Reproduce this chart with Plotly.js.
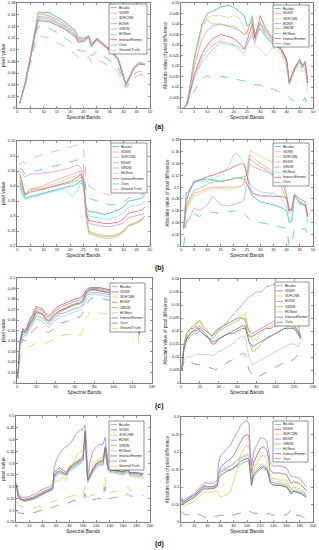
<!DOCTYPE html>
<html><head><meta charset="utf-8">
<script src="https://cdn.plot.ly/plotly-3.0.1.min.js"></script>
<style>html,body{margin:0;padding:0;background:#fff}#chart{width:319px;height:550px}</style>
</head><body><div id="chart"></div>
<script>
// ---------- DATA ----------
const seriesNames = ['Bicubic','VDSR','3DFCNN','EDSR','GRDN','HLNnet','InteractFormer','Ours','Ground Truth'];

// (a) left: pixel value
const aL_x = [1,3,5,7,8,10,12,15,18,20,22,23,25,27,28,30,32,35,38,40,41,42,44,46,48];
const aL_bicubic = [0.008,0.042,0.088,0.142,0.165,0.163,0.164,0.156,0.148,0.140,0.133,0.121,0.120,0.124,0.110,0.120,0.112,0.101,0.086,0.056,0.042,0.051,0.071,0.078,0.076];
const aL_vdsr = [0.008,0.041,0.087,0.140,0.161,0.160,0.158,0.151,0.144,0.137,0.130,0.119,0.118,0.123,0.108,0.119,0.111,0.100,0.085,0.055,0.041,0.050,0.070,0.077,0.075];
const aL_3dfcnn = [0.008,0.041,0.086,0.139,0.163,0.162,0.160,0.153,0.146,0.138,0.131,0.118,0.117,0.122,0.107,0.118,0.110,0.099,0.084,0.055,0.041,0.050,0.070,0.077,0.076];
const aL_edsr = [0.008,0.040,0.085,0.137,0.157,0.156,0.155,0.148,0.141,0.134,0.127,0.117,0.116,0.122,0.107,0.118,0.110,0.099,0.084,0.054,0.041,0.050,0.069,0.076,0.075];
const aL_grdn = [0.008,0.040,0.085,0.136,0.155,0.154,0.152,0.146,0.139,0.132,0.125,0.115,0.115,0.121,0.106,0.117,0.109,0.098,0.083,0.054,0.040,0.049,0.069,0.076,0.074];
const aL_hlnnet = [0.008,0.040,0.084,0.134,0.152,0.151,0.150,0.144,0.137,0.130,0.123,0.114,0.115,0.121,0.106,0.117,0.109,0.098,0.083,0.054,0.040,0.049,0.069,0.076,0.074];
const aL_interact = [0.008,0.040,0.084,0.133,0.150,0.149,0.148,0.142,0.135,0.128,0.122,0.113,0.114,0.122,0.105,0.118,0.109,0.098,0.083,0.053,0.040,0.049,0.068,0.075,0.074];
const aL_ours = [0.008,0.038,0.080,0.126,0.140,0.139,0.137,0.129,0.121,0.114,0.107,0.099,0.097,0.101,0.089,0.097,0.091,0.081,0.071,0.046,0.036,0.042,0.058,0.063,0.061];
const aL_gt = [0.008,0.036,0.075,0.113,0.124,0.122,0.120,0.112,0.105,0.098,0.092,0.086,0.084,0.088,0.078,0.084,0.079,0.071,0.063,0.041,0.034,0.038,0.051,0.057,0.057];

// (a) right: absolute difference
const aR_x = [1,2,3,5,8,10,12,15,18,20,22,24,25,27,28,30,32,35,38,40,41,43,45,46,47,48];
const aR_bicubic = [0,0.001,0.007,0.023,0.040,0.045,0.046,0.048,0.049,0.048,0.046,0.044,0.039,0.041,0.034,0.038,0.034,0.030,0.028,0.022,0.012,0.018,0.022,0.019,0.021,0.012];
const aR_vdsr = [0,0.001,0.005,0.015,0.024,0.027,0.030,0.032,0.031,0.030,0.028,0.026,0.030,0.036,0.032,0.040,0.035,0.031,0.027,0.022,0.012,0.019,0.022,0.019,0.021,0.011];
const aR_3dfcnn = [0,0.001,0.006,0.022,0.038,0.043,0.044,0.044,0.043,0.044,0.043,0.038,0.035,0.038,0.030,0.028,0.025,0.029,0.026,0.020,0.011,0.017,0.020,0.017,0.019,0.008];
const aR_edsr = [0,0.001,0.006,0.020,0.033,0.037,0.039,0.040,0.039,0.038,0.037,0.035,0.036,0.043,0.034,0.040,0.036,0.032,0.028,0.023,0.012,0.019,0.023,0.020,0.022,0.012];
const aR_grdn = [0,0.001,0.007,0.024,0.040,0.042,0.040,0.040,0.039,0.039,0.037,0.035,0.036,0.044,0.035,0.041,0.037,0.032,0.028,0.023,0.012,0.019,0.023,0.020,0.022,0.012];
const aR_hlnnet = [0,0.001,0.005,0.014,0.022,0.025,0.028,0.031,0.030,0.030,0.029,0.028,0.030,0.035,0.031,0.038,0.034,0.031,0.027,0.022,0.012,0.019,0.022,0.019,0.021,0.011];
const aR_interact = [0,0.001,0.005,0.016,0.026,0.030,0.033,0.035,0.034,0.033,0.031,0.028,0.032,0.040,0.033,0.044,0.038,0.033,0.028,0.023,0.012,0.019,0.023,0.020,0.022,0.012];
const aR_ours = [0,0.001,0.003,0.008,0.014,0.0155,0.014,0.015,0.0145,0.014,0.0135,0.013,0.0125,0.012,0.011,0.011,0.010,0.009,0.007,0.006,0.005,0.003,0.003,0.003,0.005,0.0];

// (b) left
const bL_x = [1,2,3,5,8,10,12,15,18,20,21,23,24,25,26,27,30,33,35,38,40,42,45,47,48];
const bL_bicubic = [0.41,0.38,0.36,0.365,0.37,0.375,0.38,0.39,0.395,0.40,0.40,0.41,0.42,0.40,0.33,0.315,0.312,0.305,0.31,0.32,0.33,0.35,0.355,0.36,0.37];
const bL_vdsr = [0.43,0.40,0.37,0.39,0.395,0.40,0.41,0.42,0.43,0.435,0.44,0.445,0.45,0.42,0.30,0.25,0.24,0.235,0.235,0.24,0.25,0.27,0.28,0.29,0.30];
const bL_3dfcnn = [0.42,0.39,0.37,0.385,0.39,0.395,0.40,0.41,0.42,0.43,0.43,0.435,0.44,0.41,0.29,0.24,0.23,0.225,0.225,0.232,0.245,0.265,0.275,0.285,0.30];
const bL_edsr = [0.45,0.44,0.43,0.44,0.44,0.445,0.445,0.45,0.455,0.46,0.465,0.47,0.46,0.44,0.32,0.275,0.27,0.265,0.265,0.27,0.275,0.295,0.30,0.305,0.31];
const bL_grdn = [0.42,0.39,0.37,0.39,0.39,0.39,0.395,0.40,0.405,0.41,0.415,0.42,0.43,0.41,0.30,0.245,0.235,0.23,0.23,0.236,0.248,0.268,0.278,0.288,0.30];
const bL_hlnnet = [0.40,0.37,0.355,0.36,0.37,0.375,0.38,0.385,0.39,0.375,0.365,0.39,0.41,0.40,0.32,0.30,0.295,0.29,0.29,0.30,0.31,0.33,0.335,0.34,0.35];
const bL_interact = [0.44,0.41,0.37,0.38,0.385,0.39,0.395,0.40,0.41,0.415,0.42,0.43,0.44,0.42,0.31,0.285,0.28,0.275,0.275,0.28,0.29,0.31,0.315,0.32,0.33];
const bL_ours = [0.46,0.455,0.44,0.445,0.45,0.455,0.46,0.47,0.475,0.48,0.482,0.488,0.492,0.47,0.38,0.36,0.35,0.34,0.337,0.34,0.345,0.36,0.365,0.37,0.375];
const bL_gt = [0.47,0.48,0.475,0.49,0.50,0.505,0.51,0.515,0.525,0.53,0.532,0.537,0.54,0.52,0.43,0.40,0.385,0.375,0.37,0.372,0.38,0.395,0.40,0.405,0.41];

// (b) right
const bR_x = [1,2,3,5,7,10,12,15,18,20,21,23,24,25,26,27,30,33,35,38,40,41,42,43,45,47,48];
const bR_bicubic = [0.03,0.09,0.092,0.108,0.112,0.114,0.112,0.11,0.112,0.115,0.116,0.115,0.113,0.105,0.095,0.085,0.075,0.072,0.07,0.065,0.06,0.04,0.042,0.088,0.072,0.07,0.05];
const bR_vdsr = [0.03,0.065,0.075,0.09,0.092,0.098,0.1,0.1,0.1,0.1,0.1,0.102,0.11,0.125,0.155,0.15,0.14,0.132,0.125,0.12,0.085,0.06,0.065,0.085,0.075,0.07,0.055];
const bR_3dfcnn = [0.03,0.06,0.07,0.085,0.088,0.095,0.097,0.098,0.096,0.098,0.1,0.103,0.105,0.13,0.162,0.16,0.152,0.146,0.143,0.14,0.09,0.062,0.065,0.085,0.075,0.07,0.055];
const bR_edsr = [0.03,0.04,0.045,0.065,0.06,0.07,0.085,0.07,0.068,0.07,0.072,0.075,0.08,0.11,0.14,0.135,0.13,0.125,0.12,0.1,0.078,0.055,0.06,0.085,0.072,0.068,0.052];
const bR_grdn = [0.03,0.065,0.078,0.095,0.098,0.105,0.108,0.11,0.112,0.115,0.115,0.116,0.118,0.12,0.148,0.145,0.135,0.128,0.12,0.115,0.085,0.06,0.064,0.086,0.074,0.07,0.054];
const bR_hlnnet = [0.03,0.09,0.095,0.11,0.11,0.11,0.112,0.12,0.135,0.155,0.158,0.148,0.14,0.12,0.105,0.1,0.092,0.09,0.09,0.082,0.065,0.04,0.045,0.088,0.07,0.07,0.04];
const bR_interact = [0.03,0.075,0.09,0.11,0.112,0.118,0.12,0.125,0.13,0.135,0.137,0.14,0.138,0.12,0.1,0.09,0.085,0.085,0.085,0.084,0.082,0.06,0.062,0.088,0.08,0.075,0.05];
const bR_ours = [0,0.04,0.05,0.055,0.05,0.058,0.057,0.055,0.058,0.06,0.06,0.06,0.055,0.05,0.045,0.043,0.04,0.037,0.035,0.032,0.03,0.0,0.005,0.03,0.028,0.03,0.02];

// (c) left
const cL_x = [1,3,6,8,10,13,16,20,23,26,30,33,36,40,45,50,55,60,65,68,72,76,80,85,90,95,100,105,110,115,120,124,127];
const cL_vdsr = [0.005,0.040,0.052,0.050,0.053,0.060,0.065,0.073,0.072,0.071,0.066,0.064,0.067,0.071,0.074,0.076,0.078,0.080,0.081,0.083,0.089,0.091,0.091,0.091,0.090,0.089,0.088,0.087,0.086,0.086,0.085,0.080,0.050];
const cL_edsr = [0.005,0.039,0.051,0.049,0.052,0.058,0.063,0.071,0.070,0.069,0.064,0.062,0.065,0.069,0.072,0.074,0.076,0.078,0.079,0.081,0.088,0.090,0.090,0.090,0.089,0.088,0.087,0.086,0.085,0.085,0.084,0.079,0.049];
const cL_3dfcnn = [0.005,0.039,0.050,0.048,0.050,0.056,0.061,0.069,0.068,0.067,0.062,0.060,0.063,0.067,0.070,0.072,0.074,0.076,0.077,0.079,0.086,0.089,0.089,0.089,0.088,0.087,0.086,0.085,0.084,0.084,0.083,0.078,0.048];
const cL_grdn = [0.005,0.038,0.049,0.047,0.049,0.055,0.059,0.067,0.066,0.065,0.060,0.058,0.061,0.065,0.068,0.070,0.072,0.074,0.075,0.077,0.085,0.088,0.088,0.088,0.087,0.086,0.085,0.084,0.083,0.083,0.082,0.077,0.047];
const cL_interact = [0.005,0.038,0.050,0.048,0.050,0.056,0.060,0.068,0.067,0.066,0.061,0.059,0.062,0.066,0.069,0.071,0.073,0.075,0.076,0.078,0.086,0.089,0.089,0.088,0.087,0.086,0.085,0.084,0.083,0.083,0.082,0.077,0.047];
const cL_bicubic = [0.005,0.037,0.047,0.045,0.047,0.053,0.057,0.064,0.063,0.062,0.058,0.056,0.059,0.063,0.066,0.067,0.069,0.071,0.072,0.075,0.083,0.086,0.086,0.086,0.085,0.084,0.083,0.082,0.081,0.081,0.080,0.075,0.046];
const cL_hlnnet = [0.005,0.036,0.045,0.043,0.045,0.051,0.055,0.061,0.060,0.059,0.055,0.053,0.056,0.060,0.063,0.064,0.066,0.068,0.069,0.072,0.080,0.084,0.084,0.084,0.083,0.082,0.081,0.080,0.079,0.079,0.078,0.073,0.045];
const cL_ours = [0.004,0.033,0.042,0.040,0.041,0.046,0.049,0.053,0.052,0.051,0.049,0.048,0.050,0.054,0.057,0.058,0.060,0.062,0.063,0.066,0.075,0.080,0.081,0.081,0.080,0.079,0.078,0.077,0.076,0.076,0.075,0.070,0.043];
const cL_gt = [0.003,0.022,0.031,0.032,0.033,0.035,0.036,0.038,0.038,0.038,0.038,0.039,0.041,0.043,0.045,0.046,0.046,0.046,0.045,0.050,0.062,0.068,0.068,0.067,0.066,0.066,0.065,0.065,0.064,0.064,0.063,0.058,0.035];

// (c) right
const cR_x = [1,3,6,8,10,13,16,20,23,26,30,33,36,40,45,50,55,60,65,68,72,76,80,85,90,95,100,105,110,115,120,124,127];
const cR_bicubic = [0.005,0.013,0.018,0.017,0.018,0.019,0.019,0.020,0.019,0.018,0.017,0.017,0.018,0.020,0.022,0.024,0.026,0.028,0.030,0.031,0.033,0.034,0.035,0.035,0.037,0.0375,0.038,0.037,0.036,0.034,0.030,0.024,0.017];
const cR_vdsr = [0.005,0.015,0.019,0.020,0.021,0.021,0.022,0.020,0.019,0.018,0.017,0.015,0.015,0.017,0.018,0.019,0.019,0.020,0.021,0.021,0.018,0.018,0.019,0.020,0.021,0.021,0.022,0.022,0.023,0.023,0.022,0.020,0.018];
const cR_3dfcnn = [0.005,0.014,0.018,0.019,0.020,0.021,0.022,0.024,0.022,0.021,0.019,0.018,0.019,0.021,0.022,0.023,0.024,0.025,0.026,0.027,0.020,0.016,0.017,0.019,0.021,0.022,0.023,0.024,0.025,0.025,0.024,0.021,0.018];
const cR_edsr = [0.005,0.013,0.017,0.018,0.019,0.020,0.021,0.022,0.021,0.020,0.019,0.018,0.020,0.021,0.022,0.023,0.024,0.025,0.025,0.024,0.020,0.019,0.020,0.021,0.022,0.023,0.024,0.024,0.024,0.023,0.022,0.020,0.017];
const cR_grdn = [0.005,0.014,0.019,0.020,0.021,0.022,0.023,0.024,0.022,0.021,0.019,0.018,0.019,0.020,0.021,0.022,0.023,0.024,0.025,0.025,0.016,0.012,0.013,0.015,0.017,0.018,0.019,0.020,0.021,0.022,0.021,0.019,0.017];
const cR_hlnnet = [0.005,0.009,0.010,0.010,0.010,0.0105,0.011,0.011,0.011,0.011,0.011,0.0105,0.011,0.012,0.013,0.014,0.015,0.017,0.018,0.018,0.010,0.007,0.008,0.009,0.010,0.011,0.012,0.013,0.014,0.015,0.015,0.014,0.016];
const cR_interact = [0.005,0.013,0.017,0.018,0.019,0.020,0.020,0.021,0.020,0.019,0.017,0.016,0.016,0.017,0.018,0.019,0.020,0.021,0.022,0.022,0.016,0.014,0.015,0.016,0.017,0.018,0.019,0.020,0.021,0.021,0.021,0.019,0.017];
const cR_ours = [0.005,0.008,0.009,0.008,0.008,0.0075,0.0072,0.007,0.0068,0.0065,0.006,0.0055,0.0052,0.0055,0.007,0.008,0.009,0.010,0.0115,0.011,0.005,0.003,0.002,0.003,0.004,0.005,0.0062,0.007,0.008,0.0085,0.009,0.011,0.012];

// (d) left
const dL_x = [1,3,6,10,15,20,25,30,35,40,45,50,55,57,60,65,70,75,80,85,90,95,100,103,105,107,110,115,120,125,130,133,135,137,140,150,160,167,170,180,190];
const dL_bicubic = [0.2,0.16,0.145,0.14,0.14,0.142,0.147,0.153,0.16,0.17,0.175,0.18,0.19,0.24,0.25,0.26,0.255,0.25,0.27,0.28,0.29,0.3,0.31,0.41,0.29,0.22,0.235,0.265,0.285,0.295,0.295,0.35,0.32,0.275,0.265,0.26,0.255,0.265,0.25,0.25,0.245];
const dL_vdsr = [0.21,0.168,0.152,0.147,0.147,0.15,0.155,0.162,0.17,0.18,0.185,0.19,0.2,0.26,0.27,0.28,0.27,0.26,0.285,0.295,0.305,0.315,0.325,0.44,0.31,0.23,0.25,0.28,0.3,0.31,0.31,0.37,0.335,0.285,0.275,0.27,0.265,0.275,0.26,0.26,0.255];
const dL_3dfcnn = [0.2,0.16,0.145,0.14,0.14,0.142,0.148,0.155,0.163,0.172,0.178,0.183,0.19,0.23,0.22,0.23,0.24,0.225,0.27,0.3,0.33,0.345,0.355,0.38,0.33,0.24,0.28,0.3,0.31,0.32,0.32,0.37,0.34,0.28,0.27,0.26,0.25,0.26,0.245,0.24,0.235];
const dL_edsr = [0.215,0.175,0.16,0.155,0.155,0.158,0.165,0.17,0.18,0.19,0.195,0.2,0.21,0.28,0.31,0.34,0.36,0.37,0.38,0.4,0.425,0.44,0.445,0.46,0.4,0.25,0.3,0.35,0.37,0.38,0.38,0.41,0.37,0.31,0.3,0.295,0.29,0.3,0.285,0.28,0.275];
const dL_grdn = [0.205,0.165,0.15,0.145,0.144,0.146,0.151,0.157,0.165,0.175,0.18,0.185,0.195,0.245,0.255,0.265,0.255,0.25,0.275,0.285,0.295,0.305,0.315,0.42,0.3,0.225,0.24,0.27,0.29,0.3,0.3,0.36,0.325,0.28,0.27,0.265,0.26,0.27,0.255,0.255,0.25];
const dL_hlnnet = [0.2,0.158,0.143,0.138,0.137,0.14,0.145,0.15,0.158,0.168,0.173,0.178,0.188,0.235,0.245,0.255,0.25,0.245,0.265,0.275,0.285,0.295,0.305,0.4,0.285,0.215,0.23,0.26,0.28,0.29,0.29,0.345,0.315,0.27,0.26,0.255,0.25,0.26,0.245,0.245,0.24];
const dL_interact = [0.205,0.163,0.148,0.143,0.142,0.145,0.15,0.156,0.164,0.174,0.179,0.184,0.193,0.25,0.26,0.27,0.26,0.255,0.28,0.29,0.3,0.31,0.32,0.43,0.305,0.228,0.245,0.275,0.295,0.305,0.305,0.365,0.33,0.283,0.272,0.268,0.262,0.272,0.258,0.258,0.252];
const dL_ours = [0.1,0.09,0.087,0.085,0.085,0.086,0.088,0.092,0.097,0.1,0.104,0.108,0.112,0.115,0.118,0.125,0.13,0.128,0.135,0.14,0.14,0.142,0.145,0.17,0.15,0.135,0.14,0.145,0.148,0.15,0.15,0.2,0.16,0.15,0.15,0.155,0.155,0.17,0.16,0.16,0.162];
const dL_gt = [0.135,0.125,0.118,0.112,0.108,0.107,0.108,0.112,0.117,0.122,0.127,0.13,0.135,0.14,0.142,0.15,0.155,0.153,0.158,0.162,0.163,0.163,0.165,0.2,0.17,0.155,0.16,0.165,0.168,0.17,0.17,0.245,0.19,0.172,0.175,0.18,0.183,0.2,0.185,0.185,0.187];

// (d) right
const dR_x = [1,3,6,10,15,20,25,30,35,40,45,50,55,57,60,65,70,75,80,85,90,95,100,103,105,107,110,115,120,125,130,133,135,137,140,150,160,167,170,180,190];
const dR_bicubic = [0.065,0.056,0.06,0.066,0.071,0.076,0.084,0.095,0.104,0.101,0.1,0.102,0.11,0.14,0.145,0.148,0.15,0.15,0.155,0.16,0.165,0.17,0.175,0.17,0.13,0.105,0.13,0.14,0.15,0.152,0.148,0.13,0.112,0.108,0.105,0.105,0.1,0.08,0.088,0.083,0.073];
const dR_vdsr = [0.065,0.055,0.06,0.065,0.07,0.075,0.083,0.095,0.103,0.1,0.1,0.102,0.11,0.14,0.155,0.165,0.175,0.18,0.19,0.21,0.23,0.245,0.25,0.245,0.18,0.14,0.17,0.19,0.21,0.215,0.205,0.18,0.15,0.145,0.14,0.14,0.135,0.11,0.115,0.11,0.09];
const dR_3dfcnn = [0.05,0.045,0.047,0.05,0.055,0.06,0.068,0.078,0.085,0.085,0.085,0.087,0.09,0.08,0.07,0.075,0.08,0.085,0.12,0.15,0.19,0.21,0.22,0.215,0.16,0.12,0.15,0.17,0.185,0.19,0.18,0.16,0.135,0.13,0.125,0.12,0.12,0.095,0.1,0.095,0.08];
const dR_edsr = [0.07,0.06,0.065,0.07,0.075,0.08,0.09,0.103,0.113,0.11,0.11,0.112,0.12,0.17,0.19,0.2,0.21,0.22,0.24,0.255,0.275,0.285,0.29,0.28,0.2,0.16,0.2,0.22,0.24,0.24,0.23,0.2,0.17,0.165,0.16,0.16,0.155,0.13,0.13,0.125,0.1];
const dR_grdn = [0.06,0.052,0.057,0.062,0.067,0.072,0.08,0.09,0.098,0.096,0.096,0.098,0.104,0.13,0.14,0.15,0.155,0.16,0.165,0.175,0.18,0.185,0.19,0.185,0.14,0.11,0.14,0.15,0.16,0.16,0.155,0.14,0.12,0.115,0.11,0.11,0.105,0.085,0.09,0.085,0.075];
const dR_hlnnet = [0.06,0.053,0.058,0.063,0.068,0.073,0.08,0.09,0.098,0.097,0.097,0.1,0.108,0.145,0.15,0.155,0.16,0.16,0.17,0.18,0.185,0.19,0.195,0.19,0.145,0.115,0.145,0.155,0.165,0.165,0.16,0.145,0.125,0.12,0.115,0.115,0.11,0.09,0.095,0.09,0.078];
const dR_interact = [0.055,0.05,0.055,0.06,0.064,0.069,0.077,0.087,0.095,0.094,0.094,0.096,0.102,0.125,0.132,0.14,0.145,0.148,0.155,0.165,0.172,0.178,0.182,0.178,0.135,0.105,0.135,0.145,0.155,0.157,0.15,0.135,0.115,0.11,0.105,0.105,0.1,0.08,0.088,0.083,0.07];
const dR_ours = [0.03,0.025,0.022,0.02,0.022,0.025,0.022,0.02,0.015,0.01,0.012,0.015,0.018,0.02,0.02,0.018,0.015,0.018,0.02,0.022,0.025,0.028,0.03,0.032,0.03,0.028,0.025,0.025,0.026,0.025,0.022,0.025,0.022,0.02,0.02,0.02,0.02,0.035,0.02,0.018,0.01];

// ---------- STYLE ----------
const paletteAB = ['#3fb0c8','#f4a3a3','#f8c98a','#d59ad5','#8ccf6e','#7ee3ee','#ee5a78','#5bbde0','#f4a48e'];
const paletteCD = ['#8aa0e8','#b9605a','#e8cc4a','#b07ad8','#9cc45a','#a8c8f4','#7a6a86','#6e8fd8','#e8c860'];

const W = 319, H = 550;
const fx = p => p / W, fy = p => 1 - p / H;

const panels = [
  {x:aL_x, ys:[aL_bicubic,aL_vdsr,aL_3dfcnn,aL_edsr,aL_grdn,aL_hlnnet,aL_interact,aL_ours,aL_gt], pal:paletteAB,
   box:[17,150,3,108], xr:[0,50], xd:5, yr:[0,0.18], yd:0.02, yt:'pixel value', leg:[109,147,4,54]},
  {x:aR_x, ys:[aR_bicubic,aR_vdsr,aR_3dfcnn,aR_edsr,aR_grdn,aR_hlnnet,aR_interact,aR_ours], pal:paletteAB,
   box:[181,313,3,108], xr:[0,50], xd:5, yr:[0,0.05], yd:0.005, yt:'Absolute value of pixel difference', leg:[273,309,5,47]},
  {x:bL_x, ys:[bL_bicubic,bL_vdsr,bL_3dfcnn,bL_edsr,bL_grdn,bL_hlnnet,bL_interact,bL_ours,bL_gt], pal:paletteAB,
   box:[17,150,141,246], xr:[0,50], xd:5, yr:[0.2,0.55], yd:0.05, yt:'pixel value', leg:[111,147,143,193]},
  {x:bR_x, ys:[bR_bicubic,bR_vdsr,bR_3dfcnn,bR_edsr,bR_grdn,bR_hlnnet,bR_interact,bR_ours], pal:paletteAB,
   box:[181,313,140,246], xr:[0,50], xd:5, yr:[0,0.18], yd:0.02, yt:'Absolute value of pixel difference', leg:[273,309,143,186]},
  {x:cL_x, ys:[cL_bicubic,cL_vdsr,cL_3dfcnn,cL_edsr,cL_grdn,cL_hlnnet,cL_interact,cL_ours,cL_gt], pal:paletteCD,
   box:[17,152,278,383], xr:[0,140], xd:20, yr:[0,0.1], yd:0.01, yt:'pixel value', leg:[110,145,283,332]},
  {x:cR_x, ys:[cR_bicubic,cR_vdsr,cR_3dfcnn,cR_edsr,cR_grdn,cR_hlnnet,cR_interact,cR_ours], pal:paletteCD,
   box:[181,313,279,383], xr:[0,140], xd:20, yr:[0,0.04], yd:0.005, yt:'Absolute value of pixel difference', leg:[275,309,282,326]},
  {x:dL_x, ys:[dL_bicubic,dL_vdsr,dL_3dfcnn,dL_edsr,dL_grdn,dL_hlnnet,dL_interact,dL_ours,dL_gt], pal:paletteCD,
   box:[16,150,416,522], xr:[0,200], xd:20, yr:[0.05,0.5], yd:0.05, yt:'pixel value', leg:[109,144,421,470]},
  {x:dR_x, ys:[dR_bicubic,dR_vdsr,dR_3dfcnn,dR_edsr,dR_grdn,dR_hlnnet,dR_interact,dR_ours], pal:paletteCD,
   box:[181,313,417,522], xr:[0,200], xd:20, yr:[0,0.3], yd:0.05, yt:'Absolute value of pixel difference', leg:[273,308,421,462]}
];

const FONT = 'Liberation Sans, Arial, sans-serif';
const INK = '#262626';
const traces = [];
const layout = {
  width: W, height: H, margin:{l:0,r:0,t:0,b:0}, showlegend:false,
  paper_bgcolor:'#fff', plot_bgcolor:'#fff', font:{family:FONT, color:INK},
  shapes:[], annotations:[]
};

panels.forEach((p, k) => {
  const n = k + 1;
  const xid = n === 1 ? 'x' : 'x' + n, yid = n === 1 ? 'y' : 'y' + n;
  const xk = n === 1 ? 'xaxis' : 'xaxis' + n, yk = n === 1 ? 'yaxis' : 'yaxis' + n;
  const [x0, x1, y0, y1] = p.box;
  const common = {showline:true, mirror:'ticks', linecolor:INK, linewidth:0.6, ticks:'inside', ticklen:2,
    tickwidth:0.5, tickcolor:INK, tickfont:{size:4, color:INK, family:FONT}, showgrid:false, zeroline:false, automargin:false};
  layout[xk] = Object.assign({}, common, {domain:[fx(x0), fx(x1)], anchor:yid, range:p.xr, tick0:0, dtick:p.xd,
    title:{text:'Spectral Bands', font:{size:5, color:INK}, standoff:1}});
  layout[yk] = Object.assign({}, common, {domain:[fy(y1), fy(y0)], anchor:xid, range:p.yr, tick0:0, dtick:p.yd,
    title:{text:p.yt, font:{size: p.yt.length > 15 ? 4.6 : 5, color:INK}, standoff:1}});
  p.ys.forEach((ys, i) => {
    traces.push({type:'scatter', mode:'lines', x:p.x, y:ys, xaxis:xid, yaxis:yid, name:seriesNames[i],
      line:{color:p.pal[i], width:0.8, dash: i >= 7 ? 'dash' : 'solid'}, hoverinfo:'skip'});
  });
  // legend box
  const [lx0, lx1, ly0, ly1] = p.leg;
  layout.shapes.push({type:'rect', xref:'paper', yref:'paper', x0:fx(lx0), x1:fx(lx1), y0:fy(ly1), y1:fy(ly0),
    line:{color:INK, width:0.5}, fillcolor:'#fff', layer:'above'});
  const m = p.ys.length, rowH = (ly1 - ly0 - 2) / m;
  for (let i = 0; i < m; i++) {
    const yc = ly0 + 1 + rowH * (i + 0.5);
    layout.shapes.push({type:'line', xref:'paper', yref:'paper', x0:fx(lx0 + 1.5), x1:fx(lx0 + 8), y0:fy(yc), y1:fy(yc),
      line:{color:p.pal[i], width:0.8, dash: i >= 7 ? 'dash' : 'solid'}, layer:'above'});
    layout.annotations.push({xref:'paper', yref:'paper', x:fx(lx0 + 9), y:fy(yc), xanchor:'left', yanchor:'middle',
      text:seriesNames[i], showarrow:false, font:{size:3.5, color:INK, family:FONT}, borderpad:0});
  }
});

const labels = [['(a)',127],['(b)',268],['(c)',406],['(d)',544]];
labels.forEach(([t, yy]) => layout.annotations.push({xref:'paper', yref:'paper', x:0.5, y:fy(yy), xanchor:'center', yanchor:'middle',
  text:'<b>' + t + '</b>', showarrow:false, font:{size:7, color:'#111', family:FONT}}));

Plotly.newPlot('chart', traces, layout, {staticPlot:true, displayModeBar:false});
</script></body></html>
